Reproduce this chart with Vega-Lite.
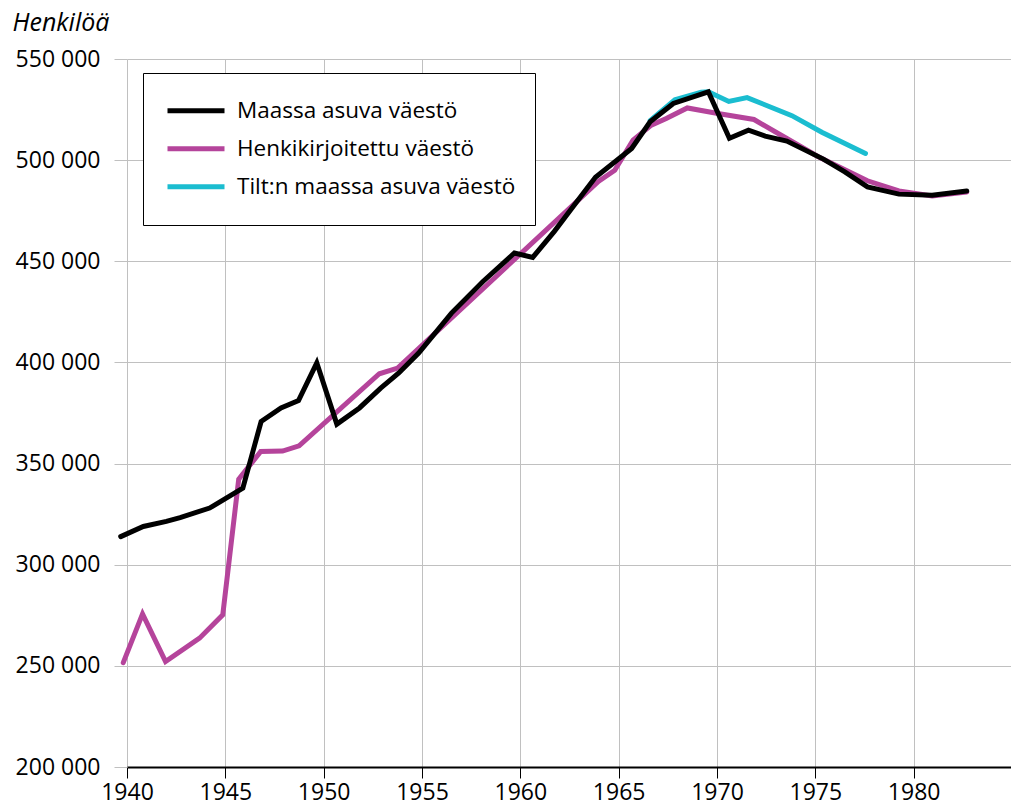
{
  "$schema": "https://vega.github.io/schema/vega-lite/v6.json",
  "width": 885,
  "height": 708,
  "autosize": {"type": "none"},
  "padding": {"left": 127, "top": 59, "right": 0, "bottom": 40},
  "background": "white",
  "config": {
    "view": {"stroke": null},
    "font": "Open Sans",
    "locale": {"number": {"decimal": ",", "thousands": " ", "grouping": [3], "currency": ["", " €"]}}
  },
  "data": {"values": [
    {"vuosi": 1939.68, "arvo": 313900, "sarja": "Maassa asuva väestö"},
    {"vuosi": 1940.83, "arvo": 318900, "sarja": "Maassa asuva väestö"},
    {"vuosi": 1942.0, "arvo": 321400, "sarja": "Maassa asuva väestö"},
    {"vuosi": 1942.7, "arvo": 323300, "sarja": "Maassa asuva väestö"},
    {"vuosi": 1944.2, "arvo": 328000, "sarja": "Maassa asuva väestö"},
    {"vuosi": 1945.89, "arvo": 337900, "sarja": "Maassa asuva väestö"},
    {"vuosi": 1946.82, "arvo": 370800, "sarja": "Maassa asuva väestö"},
    {"vuosi": 1947.83, "arvo": 377500, "sarja": "Maassa asuva väestö"},
    {"vuosi": 1948.72, "arvo": 381100, "sarja": "Maassa asuva väestö"},
    {"vuosi": 1949.65, "arvo": 399800, "sarja": "Maassa asuva väestö"},
    {"vuosi": 1950.67, "arvo": 369500, "sarja": "Maassa asuva väestö"},
    {"vuosi": 1951.82, "arvo": 377500, "sarja": "Maassa asuva väestö"},
    {"vuosi": 1952.9, "arvo": 387300, "sarja": "Maassa asuva väestö"},
    {"vuosi": 1953.82, "arvo": 394800, "sarja": "Maassa asuva väestö"},
    {"vuosi": 1954.83, "arvo": 404600, "sarja": "Maassa asuva väestö"},
    {"vuosi": 1956.5, "arvo": 424400, "sarja": "Maassa asuva väestö"},
    {"vuosi": 1958.1, "arvo": 440000, "sarja": "Maassa asuva väestö"},
    {"vuosi": 1959.7, "arvo": 454100, "sarja": "Maassa asuva väestö"},
    {"vuosi": 1960.63, "arvo": 451900, "sarja": "Maassa asuva väestö"},
    {"vuosi": 1961.73, "arvo": 464800, "sarja": "Maassa asuva väestö"},
    {"vuosi": 1962.6, "arvo": 476000, "sarja": "Maassa asuva väestö"},
    {"vuosi": 1963.82, "arvo": 491500, "sarja": "Maassa asuva väestö"},
    {"vuosi": 1965.66, "arvo": 505800, "sarja": "Maassa asuva väestö"},
    {"vuosi": 1966.6, "arvo": 519000, "sarja": "Maassa asuva väestö"},
    {"vuosi": 1967.78, "arvo": 528000, "sarja": "Maassa asuva väestö"},
    {"vuosi": 1969.56, "arvo": 533800, "sarja": "Maassa asuva väestö"},
    {"vuosi": 1970.63, "arvo": 510800, "sarja": "Maassa asuva väestö"},
    {"vuosi": 1971.6, "arvo": 514800, "sarja": "Maassa asuva väestö"},
    {"vuosi": 1972.45, "arvo": 511900, "sarja": "Maassa asuva väestö"},
    {"vuosi": 1973.55, "arvo": 509400, "sarja": "Maassa asuva väestö"},
    {"vuosi": 1975.41, "arvo": 500500, "sarja": "Maassa asuva väestö"},
    {"vuosi": 1976.5, "arvo": 494200, "sarja": "Maassa asuva väestö"},
    {"vuosi": 1977.65, "arvo": 486800, "sarja": "Maassa asuva väestö"},
    {"vuosi": 1979.25, "arvo": 483200, "sarja": "Maassa asuva väestö"},
    {"vuosi": 1980.94, "arvo": 482600, "sarja": "Maassa asuva väestö"},
    {"vuosi": 1982.7, "arvo": 484700, "sarja": "Maassa asuva väestö"},

    {"vuosi": 1939.81, "arvo": 251600, "sarja": "Henkikirjoitettu väestö"},
    {"vuosi": 1940.79, "arvo": 275700, "sarja": "Henkikirjoitettu väestö"},
    {"vuosi": 1941.96, "arvo": 252100, "sarja": "Henkikirjoitettu väestö"},
    {"vuosi": 1943.69, "arvo": 263700, "sarja": "Henkikirjoitettu väestö"},
    {"vuosi": 1944.87, "arvo": 275200, "sarja": "Henkikirjoitettu väestö"},
    {"vuosi": 1945.68, "arvo": 342300, "sarja": "Henkikirjoitettu väestö"},
    {"vuosi": 1946.8, "arvo": 356000, "sarja": "Henkikirjoitettu väestö"},
    {"vuosi": 1947.91, "arvo": 356200, "sarja": "Henkikirjoitettu väestö"},
    {"vuosi": 1948.75, "arvo": 358800, "sarja": "Henkikirjoitettu väestö"},
    {"vuosi": 1952.83, "arvo": 394400, "sarja": "Henkikirjoitettu väestö"},
    {"vuosi": 1953.76, "arvo": 397200, "sarja": "Henkikirjoitettu väestö"},
    {"vuosi": 1963.97, "arvo": 489500, "sarja": "Henkikirjoitettu väestö"},
    {"vuosi": 1964.8, "arvo": 495000, "sarja": "Henkikirjoitettu väestö"},
    {"vuosi": 1965.73, "arvo": 509900, "sarja": "Henkikirjoitettu väestö"},
    {"vuosi": 1966.66, "arvo": 517300, "sarja": "Henkikirjoitettu väestö"},
    {"vuosi": 1967.42, "arvo": 520600, "sarja": "Henkikirjoitettu väestö"},
    {"vuosi": 1968.49, "arvo": 525800, "sarja": "Henkikirjoitettu väestö"},
    {"vuosi": 1970.05, "arvo": 523100, "sarja": "Henkikirjoitettu väestö"},
    {"vuosi": 1971.88, "arvo": 520100, "sarja": "Henkikirjoitettu väestö"},
    {"vuosi": 1973.55, "arvo": 510700, "sarja": "Henkikirjoitettu väestö"},
    {"vuosi": 1975.15, "arvo": 501700, "sarja": "Henkikirjoitettu väestö"},
    {"vuosi": 1977.65, "arvo": 489800, "sarja": "Henkikirjoitettu väestö"},
    {"vuosi": 1979.25, "arvo": 484800, "sarja": "Henkikirjoitettu väestö"},
    {"vuosi": 1980.94, "arvo": 482300, "sarja": "Henkikirjoitettu väestö"},
    {"vuosi": 1982.7, "arvo": 484200, "sarja": "Henkikirjoitettu väestö"},

    {"vuosi": 1966.6, "arvo": 519500, "sarja": "Tilt:n maassa asuva väestö"},
    {"vuosi": 1967.86, "arvo": 529800, "sarja": "Tilt:n maassa asuva väestö"},
    {"vuosi": 1969.2, "arvo": 533600, "sarja": "Tilt:n maassa asuva väestö"},
    {"vuosi": 1969.56, "arvo": 533800, "sarja": "Tilt:n maassa asuva väestö"},
    {"vuosi": 1970.6, "arvo": 529000, "sarja": "Tilt:n maassa asuva väestö"},
    {"vuosi": 1971.53, "arvo": 530900, "sarja": "Tilt:n maassa asuva väestö"},
    {"vuosi": 1973.81, "arvo": 522000, "sarja": "Tilt:n maassa asuva väestö"},
    {"vuosi": 1975.33, "arvo": 513800, "sarja": "Tilt:n maassa asuva väestö"},
    {"vuosi": 1977.55, "arvo": 503300, "sarja": "Tilt:n maassa asuva väestö"}
  ]},
  "encoding": {
    "x": {
      "field": "vuosi", "type": "quantitative",
      "scale": {"domain": [1940, 1985], "nice": false, "zero": false},
      "axis": {
        "title": null,
        "values": [1940, 1945, 1950, 1955, 1960, 1965, 1970, 1975, 1980],
        "format": "d",
        "labelFontSize": 23, "labelColor": "#000000", "labelPadding": 3,
        "labelFlush": false,
        "domainColor": "#000000", "domainWidth": 2,
        "tickColor": "#000000", "tickSize": 11, "tickWidth": 1,
        "gridColor": "#c0c0c0", "gridWidth": 1
      }
    },
    "y": {
      "field": "arvo", "type": "quantitative",
      "scale": {"domain": [200000, 550000], "nice": false, "zero": false},
      "axis": {
        "title": "Henkilöä",
        "titleAngle": 0, "titleX": -115, "titleY": -37, "titleAlign": "left", "titleBaseline": "middle",
        "titleFontSize": 25, "titleFontStyle": "italic", "titleFontWeight": "normal", "titleColor": "#000000",
        "values": [200000, 250000, 300000, 350000, 400000, 450000, 500000, 550000],
        "format": ",d",
        "labelFontSize": 23, "labelColor": "#000000", "labelPadding": 14,
        "domain": false,
        "tickColor": "#c0c0c0", "tickSize": 13,
        "gridColor": "#c0c0c0", "gridWidth": 1
      }
    },
    "color": {
      "field": "sarja", "type": "nominal",
      "scale": {
        "domain": ["Maassa asuva väestö", "Henkikirjoitettu väestö", "Tilt:n maassa asuva väestö"],
        "range": ["#000000", "#b5449b", "#1bbdd0"]
      },
      "legend": {
        "title": null,
        "orient": "none", "legendX": 16, "legendY": 14,
        "strokeColor": "#000000", "fillColor": "#ffffff",
        "padding": 19,
        "symbolType": "stroke", "symbolSize": 3249, "symbolStrokeWidth": 5, "symbolOffset": 3,
        "clipHeight": 37.5,
        "rowPadding": 0,
        "labelFontSize": 22.5, "labelColor": "#000000", "labelOffset": 10, "labelLimit": 400
      }
    }
  },
  "layer": [
    {
      "transform": [{"filter": "datum.sarja === 'Henkikirjoitettu väestö'"}],
      "mark": {"type": "line", "strokeWidth": 5, "strokeCap": "round", "clip": false}
    },
    {
      "transform": [{"filter": "datum.sarja === 'Tilt:n maassa asuva väestö'"}],
      "mark": {"type": "line", "strokeWidth": 5, "strokeCap": "round", "clip": false}
    },
    {
      "transform": [{"filter": "datum.sarja === 'Maassa asuva väestö'"}],
      "mark": {"type": "line", "strokeWidth": 5, "strokeCap": "round", "clip": false}
    }
  ]
}
